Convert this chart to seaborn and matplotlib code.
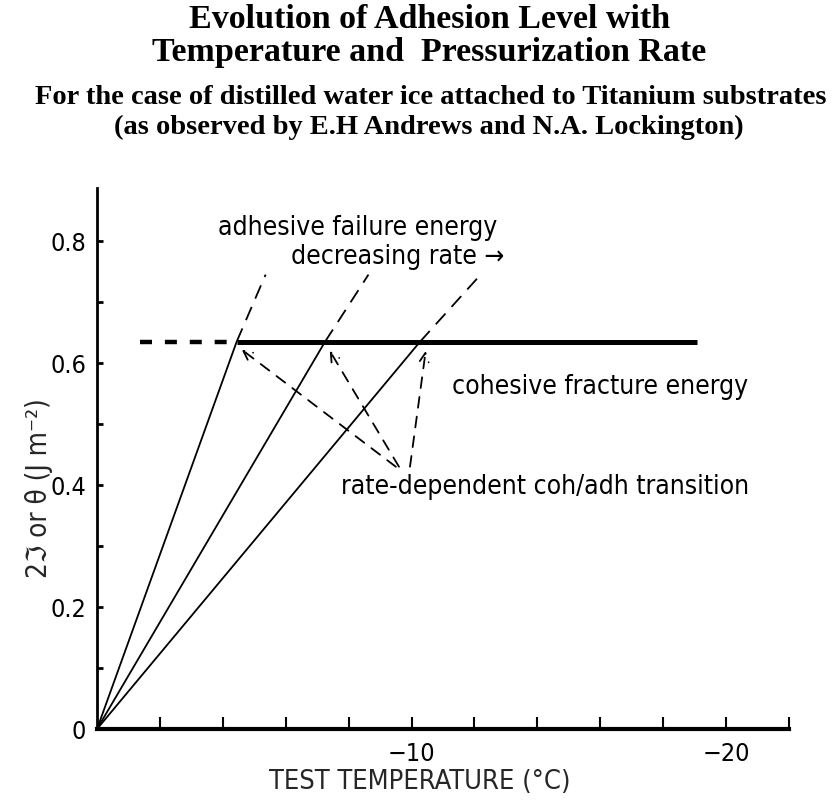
import numpy as np
import pandas as pd
import seaborn as sns
import matplotlib
matplotlib.use("Agg")
import matplotlib.pyplot as plt
from matplotlib.ticker import FixedLocator, FixedFormatter

# Temperatures (deg C) at which the adhesive lines meet the cohesive plateau
transition_temps = [-4.44, -7.25, -10.27]
cohesive_energy = 0.635          # J m^-2, cohesive fracture energy plateau
# Dashed continuation of each adhesive failure energy line above the plateau
adhesive_top_temps = [-5.36, -8.63, -12.11]
adhesive_top_energy = [0.745, 0.745, 0.74]
# Extent of the cohesive plateau: dashed part, then solid part
plateau_dashed = [-1.37, -4.44]
plateau_solid = [-4.44, -19.08]
# Tails of the rate-dependent transition arrows and where they point
arrow_tail_temps = [-9.5, -9.6, -9.95]
arrow_tail_energy = [0.43, 0.43, 0.43]
arrow_head_temps = [-4.6, -7.4, -10.45]
arrow_head_energy = [0.622, 0.62, 0.62]

x_major = [-10, -20]
x_major_labels = ["\u221210", "\u221220"]
x_minor = [-2, -4, -6, -8, -12, -14, -16, -18, -22]
y_major = [0, 0.2, 0.4, 0.6, 0.8]
y_major_labels = ["0", "0.2", "0.4", "0.6", "0.8"]
y_minor = [0.1, 0.3, 0.5, 0.7]

sns.set_theme(style="ticks")
plt.rcParams["font.family"] = ["DejaVu Sans"]
plt.rcParams["font.stretch"] = "condensed"

fig = plt.figure(figsize=(8.35, 8.02), dpi=100)
ax = fig.add_axes([0.1162, 0.091, 0.8287, 0.6746])

# Adhesive failure energy lines from the origin to the plateau
rows = []
for i, t in enumerate(transition_temps):
    rows.append({"line": i, "temp": 0.0, "energy": 0.0})
    rows.append({"line": i, "temp": t, "energy": cohesive_energy})
lines_df = pd.DataFrame(rows)
sns.lineplot(data=lines_df, x="temp", y="energy", units="line", estimator=None,
             color="black", lw=1.3, ax=ax, sort=False)

# Dashed extensions beyond the transition
ext_rows = []
for i, (t0, t1, e1) in enumerate(zip(transition_temps, adhesive_top_temps, adhesive_top_energy)):
    ext_rows.append({"line": i, "temp": t0, "energy": cohesive_energy})
    ext_rows.append({"line": i, "temp": t1, "energy": e1})
ext_df = pd.DataFrame(ext_rows)
sns.lineplot(data=ext_df, x="temp", y="energy", units="line", estimator=None,
             color="black", lw=1.3, ax=ax, sort=False, dashes=False,
             linestyle=(0, (8, 5)))

# Cohesive fracture energy plateau
ax.plot(plateau_dashed, [cohesive_energy] * 2, color="black", lw=3.2,
        linestyle=(0, (2.7, 2.9)), solid_capstyle="butt", dash_capstyle="butt")
ax.plot(plateau_solid, [cohesive_energy] * 2, color="black", lw=3.6,
        solid_capstyle="butt")

# Rate-dependent cohesive/adhesive transition arrows
for tx, ty, hx, hy in zip(arrow_tail_temps, arrow_tail_energy, arrow_head_temps, arrow_head_energy):
    ax.annotate("", xy=(hx, hy), xytext=(tx, ty),
                arrowprops=dict(arrowstyle="->", color="black", lw=1.3,
                                linestyle=(0, (6, 5)), shrinkA=0, shrinkB=0,
                                mutation_scale=16))

txt = dict(fontsize=19, fontstretch="condensed", color="black")
ax.text(-8.3, 0.821, "adhesive failure energy", ha="center", va="center", **txt)
ax.text(-9.55, 0.774, "decreasing rate \u2192", ha="center", va="center", **txt)
ax.text(-11.29, 0.561, "cohesive fracture energy", ha="left", va="center", **txt)
ax.text(-7.76, 0.397, "rate-dependent coh/adh transition", ha="left", va="center", **txt)

ax.set_xlim(0, -22)
ax.set_ylim(0, 0.887)
ax.xaxis.set_major_locator(FixedLocator(x_major))
ax.xaxis.set_major_formatter(FixedFormatter(x_major_labels))
ax.xaxis.set_minor_locator(FixedLocator(x_minor))
ax.yaxis.set_major_locator(FixedLocator(y_major))
ax.yaxis.set_major_formatter(FixedFormatter(y_major_labels))
ax.yaxis.set_minor_locator(FixedLocator(y_minor))
ax.tick_params(axis="x", which="both", direction="in", length=9, width=1.5,
               labelsize=18, pad=9, color="black", labelcolor="black")
ax.tick_params(axis="y", which="both", direction="in", length=4, width=2,
               labelsize=18, pad=8, color="black", labelcolor="black")
sns.despine(ax=ax)
ax.spines["bottom"].set_linewidth(3)
ax.spines["left"].set_linewidth(2)
ax.spines["bottom"].set_color("black")
ax.spines["left"].set_color("black")
ax.set_facecolor("white")

ax.set_xlabel("TEST TEMPERATURE (\u00b0C)", fontsize=19.5, fontstretch="condensed")
ax.xaxis.set_label_coords(0.467, -0.074)
ax.set_ylabel("2\u2111 or \u03b8 (J m\u207b\u00b2)", fontsize=20, fontstretch="condensed")
ax.yaxis.set_label_coords(-0.063, 0.445)

serif = dict(family="Liberation Serif", weight="bold", color="black", ha="center", va="center")
fig.text(0.514, 1 - 20 / 802, "Evolution of Adhesion Level with", fontsize=24.5, **serif)
fig.text(0.514, 1 - 52 / 802, "Temperature and  Pressurization Rate", fontsize=24.5, **serif)
fig.text(0.516, 1 - 97 / 802,
         "For the case of distilled water ice attached to Titanium substrates", fontsize=20.5, **serif)
fig.text(0.514, 1 - 127 / 802, "(as observed by E.H Andrews and N.A. Lockington)", fontsize=20.5, **serif)

fig.savefig("out.png", dpi=100, facecolor="white")
